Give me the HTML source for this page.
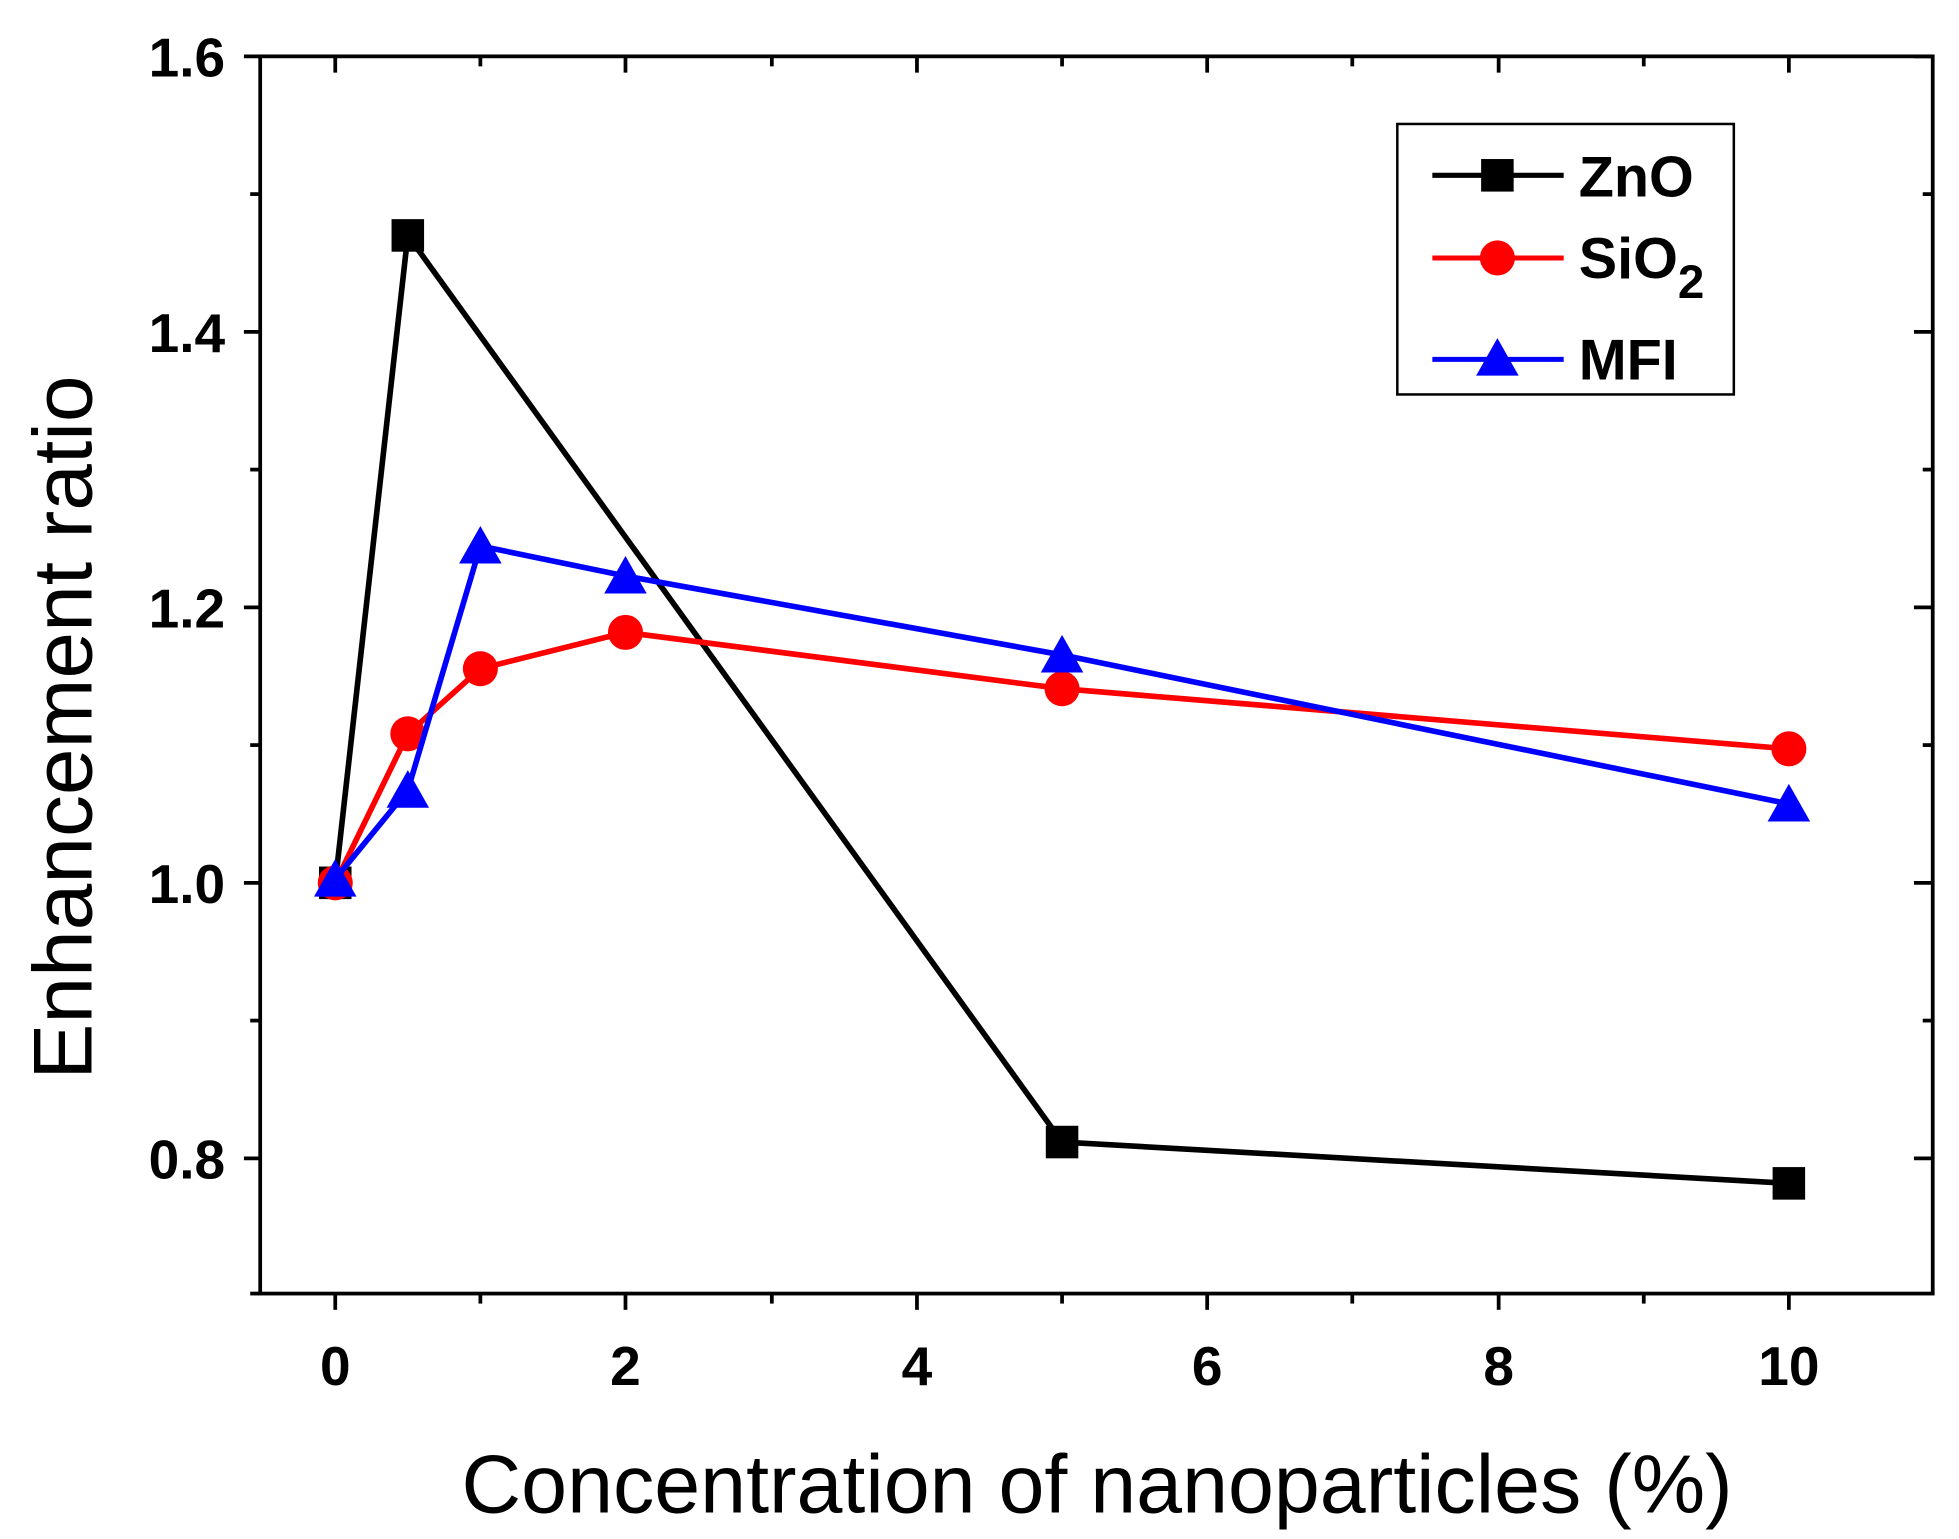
<!DOCTYPE html>
<html><head><style>html,body{margin:0;padding:0;background:#fff}svg{display:block}</style></head>
<body>
<svg width="1959" height="1539" viewBox="0 0 1566 1229" preserveAspectRatio="none" xmlns="http://www.w3.org/2000/svg" font-family="Liberation Sans, sans-serif">
<rect width="1566" height="1229" fill="#fff"/>
<rect x="208" y="45" width="1337" height="988" fill="none" stroke="#000" stroke-width="3"/>
<g stroke="#000" stroke-width="3">
<line x1="195" y1="45" x2="208" y2="45"/><line x1="195" y1="265" x2="208" y2="265"/><line x1="195" y1="485" x2="208" y2="485"/><line x1="195" y1="705" x2="208" y2="705"/><line x1="195" y1="925" x2="208" y2="925"/>
<line x1="200" y1="155" x2="208" y2="155"/><line x1="200" y1="375" x2="208" y2="375"/><line x1="200" y1="595" x2="208" y2="595"/><line x1="200" y1="815" x2="208" y2="815"/><line x1="200" y1="1033" x2="208" y2="1033"/>
<line x1="1530" y1="45" x2="1545" y2="45"/><line x1="1530" y1="265" x2="1545" y2="265"/><line x1="1530" y1="485" x2="1545" y2="485"/><line x1="1530" y1="705" x2="1545" y2="705"/><line x1="1530" y1="925" x2="1545" y2="925"/>
<line x1="1537" y1="155" x2="1545" y2="155"/><line x1="1537" y1="375" x2="1545" y2="375"/><line x1="1537" y1="595" x2="1545" y2="595"/><line x1="1537" y1="815" x2="1545" y2="815"/>
<line x1="268" y1="1033" x2="268" y2="1046"/><line x1="500" y1="1033" x2="500" y2="1046"/><line x1="733" y1="1033" x2="733" y2="1046"/><line x1="965" y1="1033" x2="965" y2="1046"/><line x1="1198" y1="1033" x2="1198" y2="1046"/><line x1="1430" y1="1033" x2="1430" y2="1046"/>
<line x1="384" y1="1033" x2="384" y2="1041"/><line x1="617" y1="1033" x2="617" y2="1041"/><line x1="849" y1="1033" x2="849" y2="1041"/><line x1="1081" y1="1033" x2="1081" y2="1041"/><line x1="1314" y1="1033" x2="1314" y2="1041"/>
<line x1="268" y1="45" x2="268" y2="58"/><line x1="500" y1="45" x2="500" y2="58"/><line x1="733" y1="45" x2="733" y2="58"/><line x1="965" y1="45" x2="965" y2="58"/><line x1="1198" y1="45" x2="1198" y2="58"/><line x1="1430" y1="45" x2="1430" y2="58"/>
<line x1="384" y1="45" x2="384" y2="53"/><line x1="617" y1="45" x2="617" y2="53"/><line x1="849" y1="45" x2="849" y2="53"/><line x1="1081" y1="45" x2="1081" y2="53"/><line x1="1314" y1="45" x2="1314" y2="53"/>
</g>
<g font-weight="bold" font-size="44" text-anchor="end">
<text x="180" y="61">1.6</text><text x="180" y="281">1.4</text><text x="180" y="501">1.2</text><text x="180" y="721">1.0</text><text x="180" y="941">0.8</text>
</g>
<g font-weight="bold" font-size="44" text-anchor="middle">
<text x="268" y="1106">0</text><text x="500" y="1106">2</text><text x="733" y="1106">4</text><text x="965" y="1106">6</text><text x="1198" y="1106">8</text><text x="1430" y="1106">10</text>
</g>
<text x="877" y="1208" font-size="66" text-anchor="middle">Concentration of nanoparticles (%)</text>
<text transform="translate(73,581) rotate(-90)" font-size="67" text-anchor="middle">Enhancement ratio</text>
<polyline points="268,705 326,188 849,912 1430,945" fill="none" stroke="#000" stroke-width="4.5"/>
<g fill="#000"><rect x="255" y="692" width="26" height="26"/><rect x="313" y="175" width="26" height="26"/><rect x="836" y="899" width="26" height="26"/><rect x="1417" y="932" width="26" height="26"/></g>
<polyline points="268,705 326,586 384,534 500,505 849,550 1430,598" fill="none" stroke="#f00" stroke-width="4.5"/>
<g fill="#f00"><circle cx="268" cy="705" r="14"/><circle cx="326" cy="586" r="14"/><circle cx="384" cy="534" r="14"/><circle cx="500" cy="505" r="14"/><circle cx="849" cy="550" r="14"/><circle cx="1430" cy="598" r="14"/></g>
<polyline points="268,702 326,631 384,436 500,460 849,523 1430,642" fill="none" stroke="#00f" stroke-width="4.5"/>
<g fill="#00f">
<polygon points="268,686 285,716 251,716"/><polygon points="326,615 343,645 309,645"/><polygon points="384,420 401,450 367,450"/><polygon points="500,444 517,474 483,474"/><polygon points="849,507 866,537 832,537"/><polygon points="1430,626 1447,656 1413,656"/>
</g>
<rect x="1117" y="99" width="269" height="216" fill="#fff" stroke="#000" stroke-width="2"/>
<line x1="1145" y1="140" x2="1250" y2="140" stroke="#000" stroke-width="4"/><rect x="1184" y="127" width="26" height="26" fill="#000"/>
<text x="1262" y="157" font-size="46" font-weight="bold">ZnO</text>
<line x1="1145" y1="206" x2="1250" y2="206" stroke="#f00" stroke-width="4"/><circle cx="1197" cy="206" r="14" fill="#f00"/>
<text x="1262" y="222" font-size="46" font-weight="bold">SiO<tspan font-size="38" dy="16">2</tspan></text>
<line x1="1145" y1="287" x2="1250" y2="287" stroke="#00f" stroke-width="4"/><polygon points="1197,270 1214,300 1180,300" fill="#00f"/>
<text x="1262" y="303" font-size="46" font-weight="bold">MFI</text>
</svg>
</body></html>
